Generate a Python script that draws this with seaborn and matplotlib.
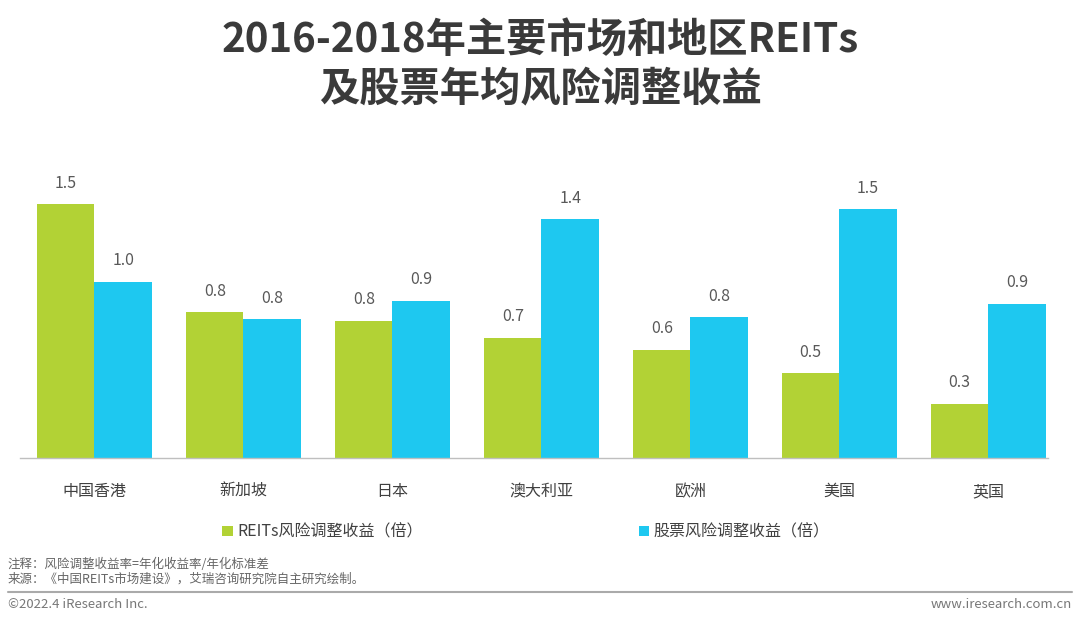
import pandas as pd
import matplotlib.pyplot as plt
import seaborn as sns
from matplotlib.patches import Patch
from matplotlib.lines import Line2D

# data
regions = ['中国香港', '新加坡', '日本', '澳大利亚', '欧洲', '美国', '英国']
reits = [1.50, 0.86, 0.81, 0.71, 0.64, 0.50, 0.32]
stocks = [1.04, 0.82, 0.93, 1.41, 0.83, 1.47, 0.91]
reits_labels = ['1.5', '0.8', '0.8', '0.7', '0.6', '0.5', '0.3']
stocks_labels = ['1.0', '0.8', '0.9', '1.4', '0.8', '1.5', '0.9']
series = ['REITs风险调整收益（倍）', '股票风险调整收益（倍）']
colors = ['#B2D235', '#1EC8F0']

df = pd.DataFrame({
    'region': regions * 2,
    'value': reits + stocks,
    'series': [series[0]] * len(regions) + [series[1]] * len(regions),
})

sns.set_theme(style='white')
plt.rcParams['font.family'] = ['Noto Sans CJK SC', 'DejaVu Sans']

fig = plt.figure(figsize=(10.8, 6.27), dpi=100)
ax = fig.add_axes([20 / 1080, 1 - 458 / 627, 1028 / 1080, 298 / 627])

sns.barplot(data=df, x='region', y='value', hue='series', palette=colors,
            width=0.77, gap=0, saturation=1, legend=False, linewidth=0,
            edgecolor='none', ax=ax)

for cont, labs in zip(ax.containers, [reits_labels, stocks_labels]):
    ax.bar_label(cont, labels=labs, padding=9, fontsize=11.5, color='#595959')

ax.set_xlim(-0.5, 6.4)
ax.set_ylim(0, 1.76)
ax.set_xlabel('')
ax.set_ylabel('')
ax.set_yticks([])
ax.tick_params(axis='x', length=0, pad=18, labelsize=11.5, labelcolor='#404040')
for s in ['top', 'right', 'left']:
    ax.spines[s].set_visible(False)
ax.spines['bottom'].set_color('#bfbfbf')
ax.spines['bottom'].set_linewidth(1)

# legend
handles = [Patch(facecolor=c, edgecolor='none') for c in colors]
fig.legend(handles, series, loc='center', bbox_to_anchor=(0.487, 1 - 532 / 627),
           ncol=2, frameon=False, fontsize=11.5, handlelength=0.65,
           handleheight=0.65, handletextpad=0.3, columnspacing=13.5,
           labelcolor='#404040')

# title
fig.text(0.5, 1 - 40 / 627, '2016-2018年主要市场和地区REITs', ha='center', va='center',
         fontsize=29, fontweight='bold', color='#3a3a3a')
fig.text(0.5, 1 - 89 / 627, '及股票年均风险调整收益', ha='center', va='center',
         fontsize=29, fontweight='bold', color='#3a3a3a')

# notes and footer
fig.text(8 / 1080, 1 - 564 / 627, '注释：风险调整收益率=年化收益率/年化标准差',
         ha='left', va='center', fontsize=9, color='#666666')
fig.text(8 / 1080, 1 - 579 / 627, '来源：《中国REITs市场建设》，艾瑞咨询研究院自主研究绘制。',
         ha='left', va='center', fontsize=9, color='#666666')
fig.add_artist(Line2D([8 / 1080, 1072 / 1080], [1 - 592 / 627, 1 - 592 / 627],
                      color='#aaaaaa', linewidth=1.5))
fig.text(8 / 1080, 1 - 604 / 627, '©2022.4 iResearch Inc.', ha='left', va='center',
         fontsize=9.5, color='#777777')
fig.text(1072 / 1080, 1 - 604 / 627, 'www.iresearch.com.cn', ha='right', va='center',
         fontsize=9.5, color='#777777')

plt.savefig('out.png', dpi=100)
